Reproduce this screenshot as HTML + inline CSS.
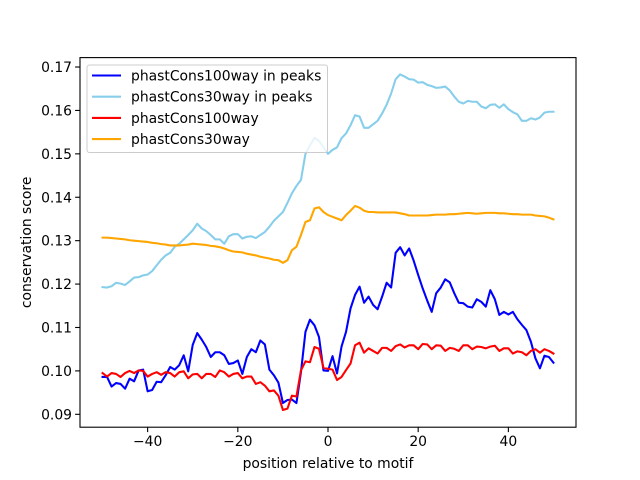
<!DOCTYPE html>
<html><head><meta charset="utf-8"><style>
body{margin:0;background:#fff}
svg{display:block;font-family:"DejaVu Sans","Liberation Sans",sans-serif}
</style></head><body>
<svg id="chart" width="640" height="480"></svg>
<script>
const xValues = Array.from({length:101},(_,i)=>i-50);
const peaks100 = [0.0986,0.0986,0.0964,0.0972,0.0970,0.0959,0.0982,0.0976,0.1001,0.1003,
0.0953,0.0956,0.0975,0.0974,0.0990,0.1009,0.1003,0.1013,0.1036,0.0999,
0.1060,0.1087,0.1072,0.1055,0.1032,0.1043,0.1043,0.1036,0.1016,0.1018,
0.1024,0.0993,0.1032,0.1050,0.1043,0.1070,0.1061,0.1003,0.0990,0.0973,
0.0926,0.0933,0.0934,0.0926,0.0997,0.1090,0.1118,0.1105,0.1078,0.1001,
0.1000,
0.1034,0.0994,0.1056,0.1090,0.1144,0.1175,0.1194,0.1157,0.1171,0.1152,
0.1142,0.1171,0.1203,0.1192,0.1272,0.1285,0.1266,0.1282,0.1254,0.1221,
0.1190,0.1162,0.1136,0.1179,0.1192,0.1211,0.1204,0.1179,0.1157,0.1156,
0.1148,0.1146,0.1165,0.1159,0.1148,0.1186,0.1165,0.1129,0.1136,0.1130,
0.1136,0.1119,0.1106,0.1094,0.1067,0.1029,0.1006,0.1035,0.1032,0.1019];
const peaks30 = [0.1193,0.1192,0.1195,0.1203,0.1201,0.1198,0.1206,0.1215,0.1216,0.1220,
0.1222,0.1230,0.1243,0.1256,0.1266,0.1272,0.1286,0.1293,0.1303,0.1313,
0.1324,0.1339,0.1328,0.1322,0.1313,0.1303,0.1303,0.1293,0.1310,0.1315,
0.1315,0.1305,0.1309,0.1310,0.1306,0.1313,0.1320,0.1332,0.1346,0.1356,
0.1366,0.1387,0.1409,0.1426,0.1440,0.1500,0.1520,0.1537,0.1530,0.1515,
0.1500,
0.1509,0.1515,0.1536,0.1547,0.1566,0.1589,0.1586,0.1560,0.1560,0.1568,
0.1576,0.1593,0.1613,0.1639,0.1672,0.1683,0.1678,0.1672,0.1671,0.1664,
0.1665,0.1659,0.1656,0.1652,0.1653,0.1655,0.1646,0.1632,0.1620,0.1616,
0.1622,0.1620,0.1620,0.1609,0.1605,0.1613,0.1614,0.1606,0.1614,0.1603,
0.1596,0.1591,0.1576,0.1576,0.1582,0.1579,0.1584,0.1595,0.1597,0.1597];
const all100 = [0.0995,0.0987,0.0995,0.0993,0.0986,0.0995,0.1000,0.0995,0.1001,0.1000,
0.0987,0.0993,0.0997,0.0991,0.0997,0.0995,0.0987,0.0997,0.0999,0.0983,
0.0992,0.0993,0.0983,0.0993,0.0993,0.0986,0.1001,0.0997,0.0987,0.0993,
0.0995,0.0983,0.0987,0.0987,0.0970,0.0974,0.0966,0.0953,0.0955,0.0943,
0.0910,0.0913,0.0943,0.0941,0.1001,0.1022,0.1020,0.1055,0.1051,0.1007,
0.1005,
0.1003,0.0979,0.0986,0.1002,0.1017,0.1059,0.1065,0.1042,0.1052,0.1046,
0.1040,0.1053,0.1053,0.1046,0.1057,0.1061,0.1054,0.1059,0.1059,0.1050,
0.1062,0.1061,0.1050,0.1059,0.1058,0.1046,0.1053,0.1051,0.1046,0.1059,
0.1059,0.1050,0.1056,0.1055,0.1052,0.1056,0.1058,0.1046,0.1052,0.1052,
0.1040,0.1045,0.1043,0.1036,0.1046,0.1050,0.1042,0.1050,0.1046,0.1040];
const all30 = [0.1307,0.1307,0.1306,0.1305,0.1304,0.1303,0.1301,0.1300,0.1299,0.1298,
0.1297,0.1295,0.1294,0.1292,0.1291,0.1289,0.1289,0.1289,0.1290,0.1291,
0.1293,0.1292,0.1291,0.1290,0.1288,0.1287,0.1285,0.1282,0.1278,0.1275,
0.1274,0.1273,0.1270,0.1268,0.1266,0.1263,0.1261,0.1259,0.1256,0.1255,
0.1249,0.1255,0.1278,0.1286,0.1313,0.1343,0.1347,0.1374,0.1377,0.1366,
0.1359,
0.1355,0.1351,0.1347,0.1359,0.1369,0.1380,0.1376,0.1369,0.1366,0.1366,
0.1365,0.1365,0.1365,0.1365,0.1365,0.1363,0.1361,0.1358,0.1358,0.1358,
0.1358,0.1358,0.1359,0.1360,0.1360,0.1360,0.1361,0.1361,0.1362,0.1363,
0.1364,0.1363,0.1362,0.1363,0.1364,0.1364,0.1364,0.1363,0.1363,0.1362,
0.1361,0.1361,0.1360,0.1360,0.1360,0.1358,0.1357,0.1356,0.1353,0.1349];
const xTicks = [-40,-20,0,20,40];
const yTicks = [0.09,0.10,0.11,0.12,0.13,0.14,0.15,0.16,0.17];
const seriesNames = ["phastCons100way in peaks","phastCons30way in peaks","phastCons100way","phastCons30way"];

const NS="http://www.w3.org/2000/svg";
const svg=document.getElementById('chart');
const L=80,R=576,T=57.6,B=427.2;
const X0=-55,X1=55,Y0=0.08703,Y1=0.17217;
const sx=v=>L+(v-X0)/(X1-X0)*(R-L);
const sy=v=>B-(v-Y0)/(Y1-Y0)*(B-T);
function mk(tag,attrs,parent){const e=document.createElementNS(NS,tag);for(const k in attrs)e.setAttribute(k,attrs[k]);(parent||svg).appendChild(e);return e;}

const series=[[peaks100,'#0000ff','line-peaks100'],[peaks30,'#87ceeb','line-peaks30'],[all100,'#ff0000','line-all100'],[all30,'#ffa500','line-all30']];
series.forEach(([vals,col,name])=>{
  const d=vals.map((v,i)=>(i?'L':'M')+sx(xValues[i]).toFixed(2)+','+sy(v).toFixed(2)).join('');
  const p=mk('path',{d:d,fill:'none',stroke:col,'stroke-width':2.08,'stroke-linejoin':'round','stroke-linecap':'square'});
  
  
});

const frame=mk('rect',{x:L,y:T,width:R-L,height:B-T,fill:'none',stroke:'#000','stroke-width':1.1});



xTicks.forEach(t=>{
  const x=sx(t);
  const tk=mk('line',{x1:x,x2:x,y1:B,y2:B+4.9,stroke:'#000','stroke-width':1.1});
  
  
  const tx=mk('text',{x:x,y:B+19,'text-anchor':'middle','font-size':13.9,fill:'#000'});
  tx.textContent=(t<0?'\u2212'+Math.abs(t):String(t));
  
  
});
yTicks.forEach(t=>{
  const y=sy(t);
  const tk=mk('line',{x1:L-4.9,x2:L,y1:y,y2:y,stroke:'#000','stroke-width':1.1});
  
  
  const tx=mk('text',{x:L-8,y:y+5,'text-anchor':'end','font-size':13.9,fill:'#000'});
  tx.textContent=t.toFixed(2);
  
  
});
const xl=mk('text',{x:(L+R)/2,y:468,'text-anchor':'middle','font-size':13.9});
xl.textContent='position relative to motif';


const yl=mk('text',{x:31,y:(T+B)/2,'text-anchor':'middle','font-size':13.9,transform:'rotate(-90 31 '+((T+B)/2)+')'});
yl.textContent='conservation score';



const lg=mk('g',{});


mk('rect',{x:87,y:65,width:240.5,height:87.5,rx:2.5,fill:'#fff','fill-opacity':0.8,stroke:'#ccc','stroke-width':1},lg);
const cols=['#0000ff','#87ceeb','#ff0000','#ffa500'];
seriesNames.forEach((n,i)=>{
  const y=75.5+i*21.2;
  const g=mk('g',{},lg);
  
  
  mk('line',{x1:92,x2:121,y1:y,y2:y,stroke:cols[i],'stroke-width':2.08},g);
  const t=mk('text',{x:131,y:y+5,'font-size':13.9,fill:'#000'},g);
  t.textContent=n;
});
</script>
</body></html>
